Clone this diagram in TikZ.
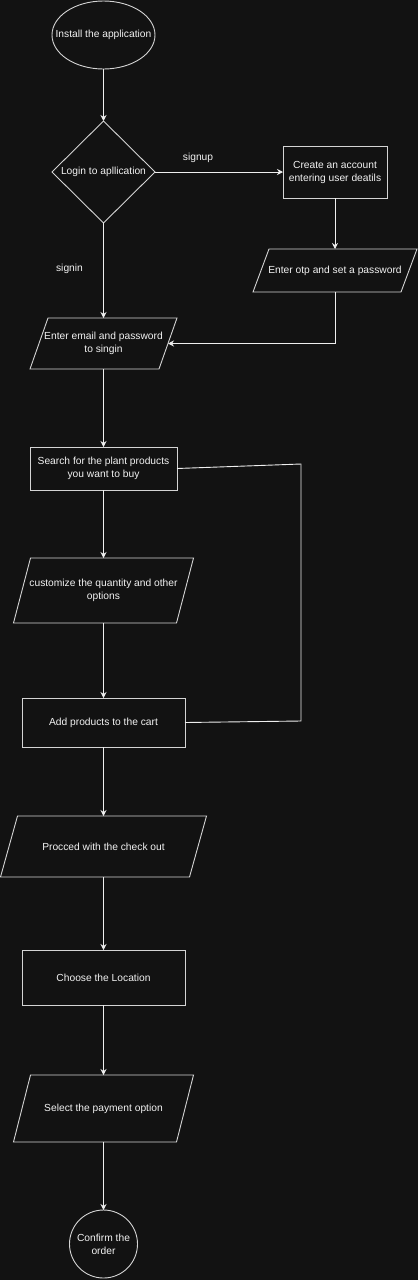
\documentclass[tikz,border=0pt]{standalone}
\usepackage{fontspec}
\setmainfont{Liberation Sans}
\usetikzlibrary{shapes.geometric,arrows.meta,calc}
\definecolor{bgc}{HTML}{121212}
\definecolor{linec}{HTML}{EEEEEE}
\definecolor{boxc}{HTML}{D4D4D4}
\definecolor{txtc}{HTML}{F2F2F2}
\tikzset{
  box/.style={draw=boxc, line width=0.9pt, inner sep=0pt, outer sep=0pt, text=txtc, align=center},
  rectbox/.style={box, rectangle},
  parabox/.style={rectangle, inner sep=0pt, outer sep=0pt, text=txtc, align=center},
  paraline/.style={draw=boxc, line width=0.9pt, line join=miter},
  arr/.style={draw=linec, line width=0.9pt, -{Stealth[length=6pt,width=6pt,inset=2pt]}},
  plainline/.style={draw=linec, line width=0.9pt},
  lbl/.style={text=txtc, inner sep=0pt},
  inlbl/.style={text=txtc, align=center, inner sep=0pt},
}
\newcommand\drawpara[2]{%
  \draw[paraline] ($(#1.north west)+(#2,0)$) -- (#1.north east) -- ($(#1.south east)+(-#2,0)$) -- (#1.south west) -- cycle;}
\begin{document}
\begin{tikzpicture}[x=1pt,y=-1pt,font=\fontsize{10.25}{13}\selectfont]
\useasboundingbox (0,0) rectangle (418,1280);
\fill[bgc] (0,0) rectangle (418,1280);

% nodes
\node[box, ellipse, minimum width=103pt, minimum height=68pt,
      label={[inlbl]center:Install the application}] (install) at (103.5,35) {};
\node[box, diamond, minimum width=103pt, minimum height=102pt,
      label={[inlbl]center:Login to apllication}] (login) at (103.5,172) {};
\node[rectbox, minimum width=104pt, minimum height=52pt] (create) at (335,172) {Create an account\\entering user deatils};
\node[parabox, minimum width=164pt, minimum height=43pt] (otp) at (335,270.5) {Enter otp and set a password};
\drawpara{otp}{16}
\node[parabox, minimum width=147pt, minimum height=51pt] (email) at (103.5,343.5) {Enter email and password\\to singin};
\drawpara{email}{18}
\node[rectbox, minimum width=147pt, minimum height=43pt] (search) at (103.5,468.5) {Search for the plant products\\you want to buy};
\node[parabox, minimum width=180pt, minimum height=65pt] (custom) at (103.5,590.5) {customize the quantity and other\\options};
\drawpara{custom}{17}
\node[rectbox, minimum width=163pt, minimum height=49pt] (cart) at (103.5,722.5) {Add products to the cart};
\node[parabox, minimum width=206pt, minimum height=61pt] (checkout) at (103.5,846.5) {Procced with the check out};
\drawpara{checkout}{17}
\node[rectbox, minimum width=163pt, minimum height=55pt] (location) at (103.5,977.5) {Choose the Location};
\node[parabox, minimum width=180pt, minimum height=67pt] (payment) at (103.5,1108.5) {Select the payment option};
\drawpara{payment}{17}
\node[box, circle, minimum size=68pt,
      label={[inlbl]center:{Confirm the\\order}}] (confirm) at (103.5,1244) {};

% loop corners
\coordinate (c1) at (301,721);
\coordinate (c2) at (301,464);

% connectors
\draw[arr] (install) -- (login);
\draw[arr] (login.east) -- node[lbl, pos=0.336, yshift=14pt] {signup} (create.west);
\draw[arr] (create) -- (otp);
\draw[arr] (otp.south) |- ($(email.east)+(-9,0)$);
\draw[arr] (login.south) -- node[lbl, pos=0.484, xshift=-34pt] {signin} (email.north);
\draw[arr] (email.south) -- (search.north);
\draw[arr] (search.south) -- (custom.north);
\draw[arr] (custom.south) -- (cart.north);
\draw[plainline] (cart.east) -- (c1) -- (c2) -- (search.east);
\draw[arr] (cart.south) -- (checkout.north);
\draw[arr] (checkout.south) -- (location.north);
\draw[arr] (location.south) -- (payment.north);
\draw[arr] (payment.south) -- (confirm.north);
\end{tikzpicture}
\end{document}
